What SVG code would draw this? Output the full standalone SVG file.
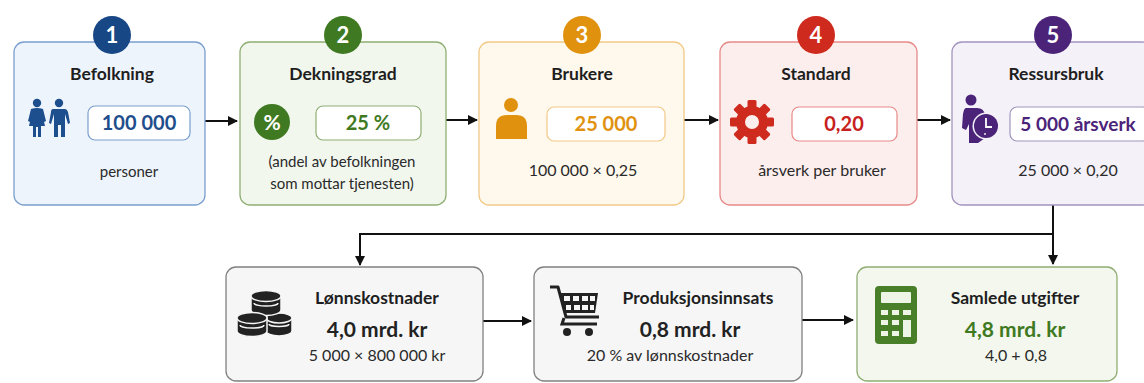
<svg xmlns="http://www.w3.org/2000/svg" width="1144" height="383" viewBox="0 0 1144 383">
<style>
text{font-family:Lato,"Open Sans","Noto Sans",sans-serif;text-anchor:middle}
.t{font-weight:700;font-size:17.5px;fill:#1e1e1e}
.v{font-weight:700;font-size:20px}
.s{font-size:15px;fill:#2a2a2a}
.s2{font-size:16px;fill:#2a2a2a}
.b{font-weight:700;font-size:22px;fill:#fff}
.big{font-weight:700;font-size:21px;fill:#222}
.box{stroke-width:1.3}
.vb{fill:#fff;stroke-width:1.2}
.con{fill:none;stroke:#111;stroke-width:2}
</style>
<defs>
<marker id="ah" markerWidth="10" markerHeight="10" refX="9" refY="5" orient="auto" markerUnits="userSpaceOnUse"><path d="M0,0 L10,5 L0,10 Z" fill="#111"/></marker>
</defs>
<rect width="1144" height="383" fill="#fff"/>

<g id="connectors">
<line class="con" x1="205" y1="121" x2="237" y2="121" marker-end="url(#ah)"/>
<line class="con" x1="446" y1="120" x2="477" y2="120" marker-end="url(#ah)"/>
<line class="con" x1="684" y1="120" x2="718" y2="120" marker-end="url(#ah)"/>
<line class="con" x1="917" y1="120" x2="950" y2="120" marker-end="url(#ah)"/>
<polyline class="con" points="1053,205 1053,234 360,234 360,265" marker-end="url(#ah)"/>
<line class="con" x1="1053" y1="234" x2="1053" y2="264" marker-end="url(#ah)"/>
<line class="con" x1="483" y1="321" x2="531" y2="321" marker-end="url(#ah)"/>
<line class="con" x1="802" y1="320" x2="853" y2="320" marker-end="url(#ah)"/>
</g>

<g id="node1">
<rect class="box" x="14" y="42" width="191" height="163" rx="10" fill="#eef4fb" stroke="#7a9fce"/>
<circle cx="112" cy="35" r="19" fill="#174785"/>
<text class="b" x="112" y="43">1</text>
<text class="t" x="112" y="80">Befolkning</text>
<g fill="#1d4f8f">
<circle cx="37" cy="103" r="4.2"/>
<path d="M31,109 Q37,107 43,109 L46,121 L44,122 L42,113 L45,126 L41,126 L41,137 L38,137 L38,127 L36,127 L36,137 L33,137 L33,126 L29,126 L32,113 L30,122 L28,121 Z"/>
<circle cx="59" cy="103" r="4.2"/>
<path d="M53,109 L65,109 Q67,109 68,112 L70,123 L68,124 L65,114 L65,137 L61,137 L61,125 L58,125 L58,137 L54,137 L54,114 L51,124 L49,123 L51,112 Q51,109 53,109 Z"/>
</g>
<rect class="vb" x="88" y="106" width="102" height="34" rx="7" stroke="#7a9fce"/>
<text class="v" x="139" y="130" fill="#1f4e8c">100 000</text>
<text class="s" x="129" y="177">personer</text>
</g>

<g id="node2">
<rect class="box" x="240" y="42" width="206" height="163" rx="10" fill="#f2f7ee" stroke="#8fae72"/>
<circle cx="343" cy="35" r="19" fill="#3f7a22"/>
<text class="b" x="343" y="43">2</text>
<text class="t" x="343" y="80">Dekningsgrad</text>
<circle cx="272" cy="122" r="18" fill="#3f7a22"/>
<text x="272" y="130" style="font-weight:700;font-size:21px;fill:#fff">%</text>
<rect class="vb" x="316" y="106" width="105" height="34" rx="7" stroke="#8fae72"/>
<text class="v" x="368" y="130" fill="#3f7a22">25 %</text>
<text class="s" x="342" y="167">(andel av befolkningen</text>
<text class="s" x="342" y="189">som mottar tjenesten)</text>
</g>

<g id="node3">
<rect class="box" x="479" y="42" width="205" height="163" rx="10" fill="#fff8ec" stroke="#f2c987"/>
<circle cx="582" cy="35" r="19" fill="#e0920f"/>
<text class="b" x="582" y="43">3</text>
<text class="t" x="582" y="80">Brukere</text>
<circle cx="511" cy="105" r="7" fill="#e0920f"/>
<path d="M496,139 L496,126 Q496,115 507,115 L516,115 Q527,115 527,126 L527,139 Z" fill="#e0920f"/>
<rect class="vb" x="547" y="107" width="118" height="34" rx="7" stroke="#f2c987"/>
<text class="v" x="606" y="131" fill="#e0920f">25 000</text>
<text class="s2" x="583" y="176">100 000 × 0,25</text>
</g>

<g id="node4">
<rect class="box" x="720" y="42" width="197" height="163" rx="10" fill="#fdeeee" stroke="#e68a88"/>
<circle cx="816" cy="35" r="19" fill="#cf2a1e"/>
<text class="b" x="816" y="43">4</text>
<text class="t" x="816" y="80">Standard</text>
<g fill="#cf2a1e" transform="translate(752,122)">
<circle r="16"/>
<rect x="-4.5" y="-22" width="9" height="44" rx="1.5"/>
<rect x="-4.5" y="-22" width="9" height="44" rx="1.5" transform="rotate(45)"/>
<rect x="-4.5" y="-22" width="9" height="44" rx="1.5" transform="rotate(90)"/>
<rect x="-4.5" y="-22" width="9" height="44" rx="1.5" transform="rotate(135)"/>
<circle r="7" fill="#fdeeee"/>
</g>
<rect class="vb" x="792" y="107" width="105" height="34" rx="7" stroke="#e68a88"/>
<text class="v" x="844" y="131" fill="#c8201c">0,20</text>
<text class="s2" x="822" y="176">årsverk per bruker</text>
</g>

<g id="node5">
<rect class="box" x="952" y="42" width="200" height="163" rx="10" fill="#f4f1f8" stroke="#a394be"/>
<circle cx="1053" cy="35" r="19" fill="#4b2379"/>
<text class="b" x="1053" y="43">5</text>
<text class="t" x="1056" y="80">Ressursbruk</text>
<g fill="#4b2379">
<circle cx="971" cy="100" r="5.5"/>
<path d="M966,108 L977,108 Q984,108 985,115 L985,138 L978,143 L969,143 L969,124 L966,130 L962,128 L963,114 Q964,108 966,108 Z"/>
<circle cx="986" cy="126" r="13.5" fill="#f4f1f8"/>
<circle cx="986" cy="126" r="12"/>
<path d="M986,118 L986,127 L992,127" fill="none" stroke="#fff" stroke-width="1.8"/>
<circle cx="985" cy="134" r="0.9" fill="#fff"/>
</g>
<rect class="vb" x="1010" y="107" width="140" height="34" rx="7" stroke="#a394be"/>
<text class="v" x="1078" y="131" fill="#4b2379" style="font-size:19px">5 000 årsverk</text>
<text class="s2" x="1068" y="176">25 000 × 0,20</text>
</g>

<g id="node6">
<rect class="box" x="226" y="267" width="257" height="114" rx="10" fill="#f6f6f6" stroke="#808080"/>
<g fill="#222" stroke="#f6f6f6" stroke-width="1.5">
<path d="M266,318 L266,331 A13,5 0 0 0 292,331 L292,318 Z"/>
<ellipse cx="279" cy="318" rx="13" ry="5"/>
<path d="M251,296 L251,310 A15,5.5 0 0 0 281,310 L281,296 Z"/>
<ellipse cx="266" cy="296" rx="15" ry="5.5"/>
<path d="M237,318 L237,331 A15,5.5 0 0 0 267,331 L267,318 Z"/>
<ellipse cx="252" cy="318" rx="15" ry="5.5"/>
</g>
<path d="M240,325 A12,3 0 0 0 264,325 M254,303 A12,3 0 0 0 278,303 M269,324 A10,2.5 0 0 0 289,324" fill="none" stroke="#f6f6f6" stroke-width="1.5"/>
<text class="t" x="377" y="304">Lønnskostnader</text>
<text class="big" x="377" y="337">4,0 mrd. kr</text>
<text class="s2" x="377" y="361">5 000 × 800 000 kr</text>
</g>

<g id="node7">
<rect class="box" x="534" y="267" width="268" height="114" rx="10" fill="#f6f6f6" stroke="#808080"/>
<g fill="#222">
<path d="M550,287 L558,287 L566,317 L599,317" fill="none" stroke="#222" stroke-width="3" stroke-linejoin="round"/>
<path d="M559,293 L598,293 L595,313 L564,313 Z"/>
<path d="M564,318 L562,324 L597,324" fill="none" stroke="#222" stroke-width="3"/>
<circle cx="567" cy="332" r="4"/>
<circle cx="589" cy="332" r="4"/>
</g>
<g fill="#f6f6f6">
<rect x="564" y="296" width="6" height="5"/><rect x="573" y="296" width="6" height="5"/><rect x="582" y="296" width="6" height="5"/><rect x="590" y="296" width="5" height="5"/>
<rect x="566" y="305" width="5" height="5"/><rect x="574" y="305" width="6" height="5"/><rect x="582" y="305" width="6" height="5"/><rect x="590" y="305" width="4" height="5"/>
</g>
<text class="t" x="698" y="304">Produksjonsinnsats</text>
<text class="big" x="690" y="337">0,8 mrd. kr</text>
<text class="s2" x="670" y="361">20 % av lønnskostnader</text>
</g>

<g id="node8">
<rect class="box" x="857" y="267" width="260" height="114" rx="10" fill="#f3f7ee" stroke="#8fae72"/>
<rect x="875" y="286" width="42" height="58" rx="4" fill="#4a7f2a"/>
<g fill="#eef4e6">
<rect x="881" y="292" width="30" height="11" rx="1"/>
<rect x="881" y="310" width="7" height="5"/><rect x="892" y="310" width="7" height="5"/><rect x="903" y="310" width="8" height="5"/>
<rect x="881" y="320" width="7" height="5"/><rect x="892" y="320" width="7" height="5"/><rect x="903" y="320" width="8" height="17"/>
<rect x="881" y="331" width="7" height="5"/><rect x="892" y="331" width="7" height="5"/>
</g>
<text class="t" x="1015" y="304">Samlede utgifter</text>
<text class="big" x="1015" y="337" style="fill:#3f7a22">4,8 mrd. kr</text>
<text class="s2" x="1016" y="361">4,0 + 0,8</text>
</g>
</svg>
